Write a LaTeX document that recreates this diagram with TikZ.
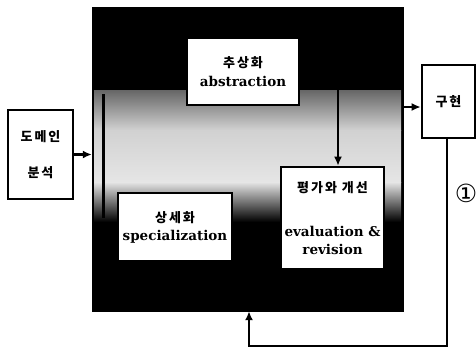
\documentclass[tikz,border=0pt]{standalone}
\usepackage{fontspec}
\usetikzlibrary{arrows.meta}
\newfontfamily\kr{Noto Sans CJK KR}[LetterSpace=15]
\newfontfamily\enf{DejaVu Serif}
\newfontfamily\symf{DejaVu Sans}
\begin{document}
\begin{tikzpicture}[x=1pt,y=-1pt,
  box/.style={draw=black, line width=2.6pt, fill=white, inner sep=0pt, align=center,
    font=\kr\bfseries\fontsize{13}{18}\selectfont},
  en/.style={},
  arr/.style={line width=2.8pt, -{Latex[length=9pt,width=8pt]}},
  ln/.style={line width=3pt}]
\useasboundingbox (0,0) rectangle (476,349);
% big dark square
\node[fill=black, draw=black, minimum width=311pt, minimum height=304pt, inner sep=0pt] (big) at (247.5,159) {};
\fill[top color=black!60, bottom color=black!18] (94,90) rectangle (401,130);
\fill[top color=black!18, bottom color=black!10] (94,130) rectangle (401,182);
\fill[top color=black!10, bottom color=black] (94,182) rectangle (401,222);
\coordinate (vt) at (103,94);
\coordinate (vb) at (103,218);
\draw[ln] (vt) -- (vb);
% boxes
\node[box, minimum width=112pt, minimum height=67pt] (abs) at (243,71.5)
  {추상화\\[1pt]{\enf\bfseries\fontsize{13.5}{18}\selectfont abstraction}};
\node[box, minimum width=114pt, minimum height=68pt] (spec) at (175,227)
  {상세화\\[0pt]{\enf\bfseries\fontsize{13.5}{18}\selectfont specialization}};
\node[box, minimum width=103pt, minimum height=102pt] (eval) at (332.5,218)
  {평가와 개선\\[26pt]{\enf\bfseries\fontsize{13.5}{18}\selectfont evaluation \&}\\[0pt]{\enf\bfseries\fontsize{13.5}{18}\selectfont revision}};
\node[box, minimum width=65pt, minimum height=89pt] (dom) at (40.5,154.5)
  {도메인\\[18pt]분석};
\node[box, minimum width=53pt, minimum height=73pt] (impl) at (448.5,101.5) {구현};
\node[font=\symf\fontsize{25}{25}\selectfont, inner sep=0pt] (c1) at (466,193) {①};
% connectors
\draw[arr] (dom.east) -- (dom.east -| big.west);
\coordinate (ea) at (338,88);
\draw[arr] (ea) -- (ea |- eval.north);
\coordinate (oi) at (403,107);
\draw[arr] (oi) -- (oi -| impl.west);
\coordinate (fb) at (249,346);
\draw[arr] ([xshift=-1.5pt]impl.south) |- (fb) -- (fb |- big.south);
\end{tikzpicture}
\end{document}
